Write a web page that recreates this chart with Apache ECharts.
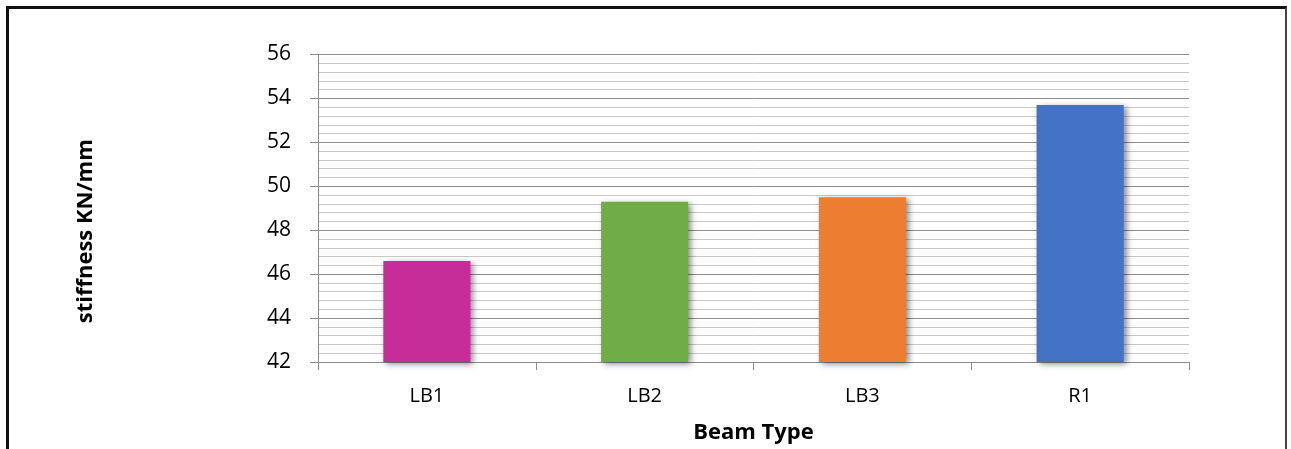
<!DOCTYPE html>
<html>
<head>
<meta charset="utf-8">
<script src="https://cdn.jsdelivr.net/npm/echarts@6/dist/echarts.min.js"></script>
<style>
  html, body { margin: 0; padding: 0; background: #fff; }
  #frame {
    position: absolute; left: 6px; top: 6px; width: 1281px; height: 460px;
    border-top: 3px solid #111; border-left: 3px solid #111; border-right: 2px solid #444;
    box-sizing: border-box;
  }
  #chart { position: absolute; left: 0; top: 0; width: 1291px; height: 449px; }
</style>
</head>
<body>
<div id="frame"></div>
<div id="chart"></div>
<script>
// Beam stiffness comparison
const categories = ['LB1', 'LB2', 'LB3', 'R1'];
const stiffness = [46.6, 49.3, 49.5, 53.7];
const barColors = ['#C62D99', '#70AD47', '#ED7D31', '#4472C4'];
const yTicks = { min: 42, max: 56, step: 2 };

const font = '"Open Sans", sans-serif';

const chart = echarts.init(document.getElementById('chart'), null, { renderer: 'canvas' });
chart.setOption({
  animation: false,
  backgroundColor: 'transparent',
  grid: { left: 318, right: 102, top: 54.5, bottom: 85.5, containLabel: false },
  xAxis: {
    type: 'category',
    data: categories,
    name: 'Beam Type',
    nameLocation: 'middle',
    nameGap: 60,
    nameTextStyle: { fontFamily: font, fontWeight: 'bold', fontSize: 22, color: '#000' },
    axisLine: { lineStyle: { color: '#8c8c8c', width: 1 } },
    axisTick: { show: true, length: 8, lineStyle: { color: '#8c8c8c' } },
    axisLabel: { fontFamily: font, fontSize: 20, color: '#000', margin: 24 },
    splitLine: { show: false }
  },
  yAxis: {
    type: 'value',
    min: yTicks.min,
    max: yTicks.max,
    interval: yTicks.step,
    name: 'stiffness KN/mm',
    nameLocation: 'middle',
    nameGap: 221,
    nameRotate: 90,
    // right padding nudges the rotated title downward
    nameTextStyle: { fontFamily: font, fontWeight: 'bold', fontSize: 22, color: '#000', padding: [0, 46, 0, 0] },
    axisLine: { show: true, lineStyle: { color: '#8c8c8c', width: 1 } },
    axisTick: { show: true, length: 8, lineStyle: { color: '#8c8c8c' } },
    axisLabel: { fontFamily: font, fontSize: 21, color: '#000', margin: 27 },
    splitLine: { show: true, lineStyle: { color: '#8c8c8c', width: 1 } },
    minorTick: { show: false, splitNumber: 5 },
    minorSplitLine: { show: true, lineStyle: { color: '#c8c8c8', width: 1 } }
  },
  series: [{
    type: 'bar',
    data: stiffness.map((v, i) => ({ value: v, itemStyle: { color: barColors[i] } })),
    barWidth: '40%',
    itemStyle: {
      shadowBlur: 6,
      shadowColor: 'rgba(0,0,0,0.45)',
      shadowOffsetX: 3,
      shadowOffsetY: 2
    }
  }]
});
</script>
</body>
</html>
